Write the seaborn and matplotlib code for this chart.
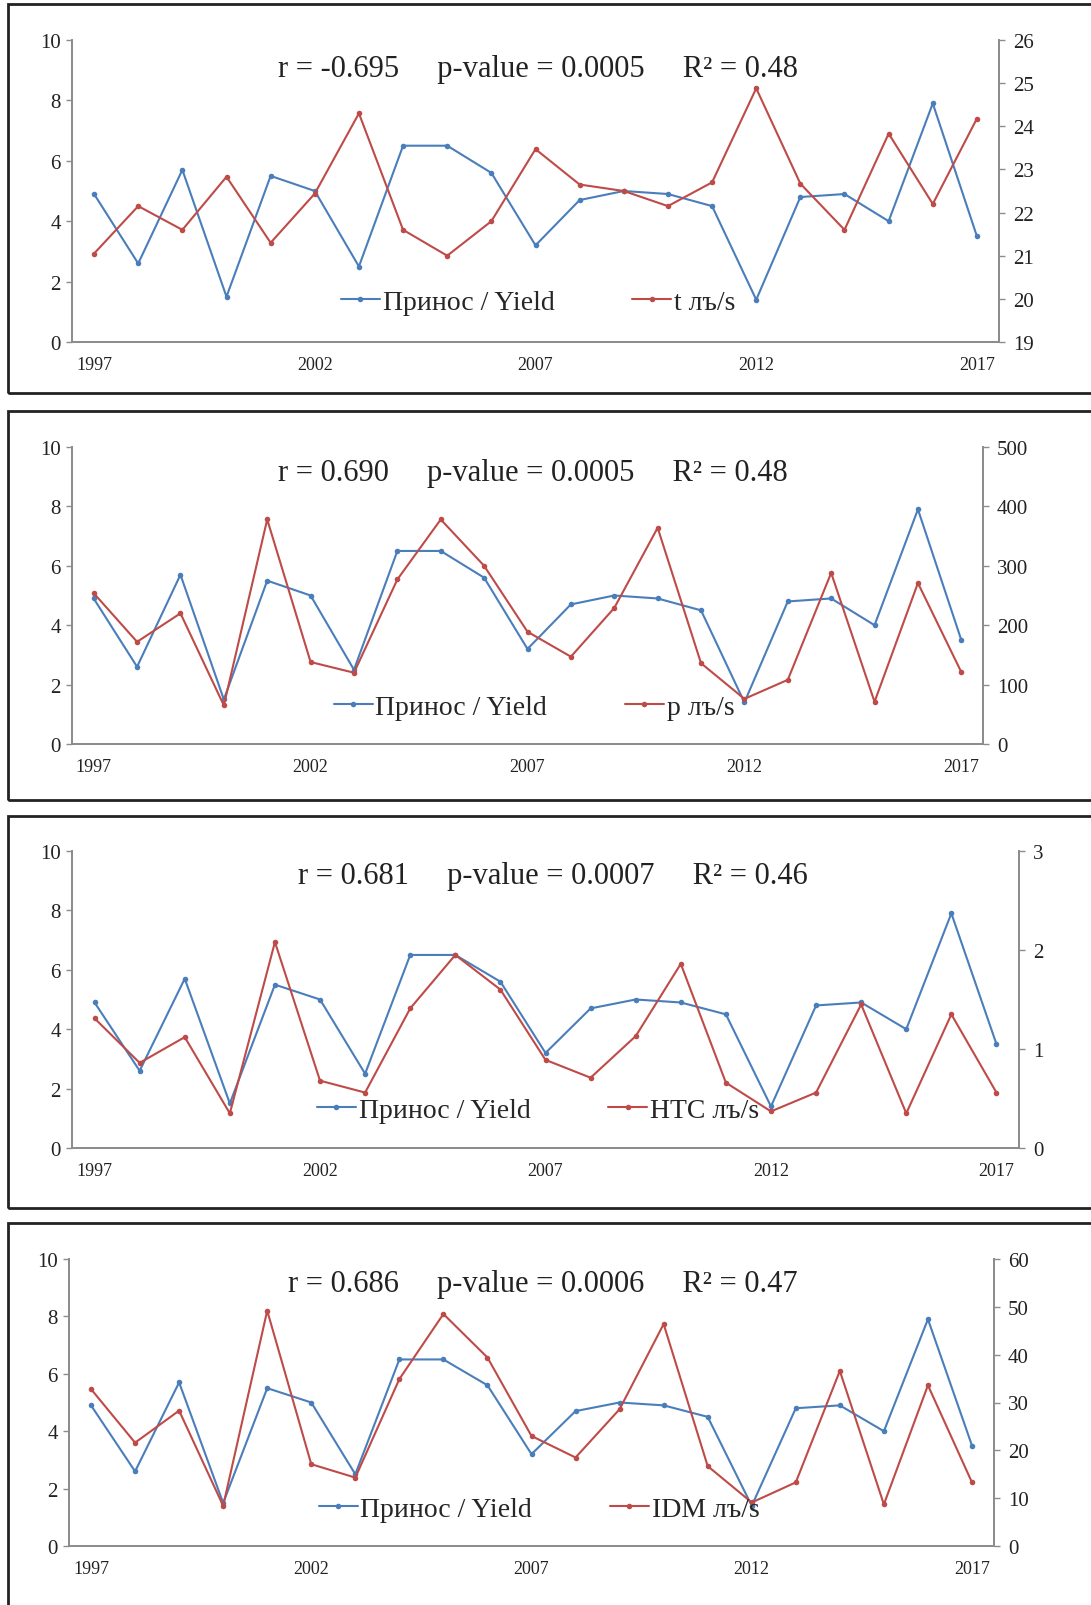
import numpy as np
import seaborn as sns
import matplotlib.pyplot as plt
from matplotlib.patches import Rectangle
from matplotlib.ticker import FixedLocator, NullFormatter


years = list(range(1997, 2018))
yield_vals = [4.9, 2.6, 5.7, 1.5, 5.5, 5.0, 2.5, 6.5, 6.5, 5.6, 3.2,
              4.7, 5.0, 4.9, 4.5, 1.4, 4.8, 4.9, 4.0, 7.9, 3.5]

temp_vals = [21.05, 22.15, 21.6, 22.83, 21.3, 22.44, 24.3, 21.6, 21.0, 21.8, 23.47,
             22.65, 22.5, 22.15, 22.7, 24.88, 22.67, 21.6, 23.83, 22.2, 24.18]
precip_vals = [254, 172, 220, 65, 378, 138, 120, 277, 378, 300, 189,
               147, 229, 364, 136, 76, 108, 288, 71, 271, 121]
htc_vals = [1.31, 0.86, 1.12, 0.35, 2.08, 0.68, 0.56, 1.41, 1.95, 1.6, 0.89,
            0.71, 1.13, 1.86, 0.66, 0.37, 0.56, 1.45, 0.35, 1.35, 0.56]
idm_vals = [32.8, 21.6, 28.3, 8.4, 49.2, 17.1, 14.3, 34.9, 48.5, 39.4, 23.0,
            18.5, 28.6, 46.4, 16.7, 9.1, 13.3, 36.6, 8.7, 33.6, 13.3]

stats_texts = ['r = -0.695     p-value = 0.0005     R\u00b2 = 0.48',
               'r = 0.690     p-value = 0.0005     R\u00b2 = 0.48',
               'r = 0.681     p-value = 0.0007     R\u00b2 = 0.46',
               'r = 0.686     p-value = 0.0006     R\u00b2 = 0.47']
series_labels = ['t \u043b\u044a/s', 'p \u043b\u044a/s', 'HTC \u043b\u044a/s', 'IDM \u043b\u044a/s']
yield_label = '\u041f\u0440\u0438\u043d\u043e\u0441 / Yield'
right_ticks = [list(range(19, 27)), list(range(0, 501, 100)),
               [0, 1, 2, 3], list(range(0, 61, 10))]
right_series = [temp_vals, precip_vals, htc_vals, idm_vals]

W, H = 1091, 1606
BLUE = '#4A7EBB'
RED = '#BE4B48'
GRAY = '#8c8c8c'

# pixel layout: (left, right, top, bottom) of axes, box (top, bottom)
axes_px = [(72, 999, 41, 343), (72, 983, 448, 745),
           (72, 1019, 852, 1149), (69, 994, 1260, 1547)]
box_px = [(5, 394), (412, 801), (817, 1209), (1224, 1612)]
text_px = [(538, 70), (533, 473), (553, 877), (543, 1285)]
legend_px = [(538, 303), (534, 708), (538, 1111), (539, 1510)]

sns.set_style('white')
plt.rcParams['font.family'] = ['Liberation Serif', 'DejaVu Serif']

fig = plt.figure(figsize=(W / 100, H / 100), dpi=100)

idx = np.arange(len(years))

for i in range(4):
    l, r, t, b = axes_px[i]
    ax = fig.add_axes([l / W, 1 - b / H, (r - l) / W, (b - t) / H])
    ax2 = ax.twinx()

    sns.lineplot(x=idx, y=yield_vals, ax=ax, color=BLUE, marker='o',
                 markersize=4, markeredgewidth=0, linewidth=1.5, label=yield_label)
    sns.lineplot(x=idx, y=right_series[i], ax=ax2, color=RED, marker='o',
                 markersize=4, markeredgewidth=0, linewidth=1.5, label=series_labels[i])

    ax.set_xlim(-0.5, len(years) - 0.5)
    ax.set_ylim(0, 10)
    ax.set_yticks(range(0, 11, 2))
    ax2.set_ylim(right_ticks[i][0], right_ticks[i][-1])
    ax2.set_yticks(right_ticks[i])

    ax.set_xticks([0, 5, 10, 15, 20])
    ax.set_xticklabels([str(years[k]) for k in [0, 5, 10, 15, 20]])
    ax.xaxis.set_minor_locator(FixedLocator(np.arange(-0.5, len(years), 1.0)))
    ax.xaxis.set_minor_formatter(NullFormatter())
    ax.tick_params(axis='x', which='major', length=0, labelsize=13, pad=10, colors='#222')
    ax.tick_params(axis='x', which='minor', length=7, width=1, color=GRAY, direction='out')
    ax.tick_params(axis='y', length=4, width=1, color=GRAY, labelsize=15, labelcolor='#222', pad=4)
    ax2.tick_params(axis='y', length=4, width=1, color=GRAY, labelsize=15, labelcolor='#222', pad=6)

    for a in (ax, ax2):
        a.set_xlabel('')
        a.set_ylabel('')
        a.spines['top'].set_visible(False)
        for s in ('left', 'right', 'bottom'):
            a.spines[s].set_color(GRAY)
            a.spines[s].set_linewidth(1.3)
        a.patch.set_alpha(0)

    h1, l1 = ax.get_legend_handles_labels()
    h2, l2 = ax2.get_legend_handles_labels()
    ax.get_legend().remove()
    ax2.get_legend().remove()
    lx, ly = legend_px[i]
    ax2.legend(h1 + h2, l1 + l2, loc='center', ncol=2, frameon=False,
               bbox_to_anchor=(lx / W, 1 - ly / H), bbox_transform=fig.transFigure,
               fontsize=20, handlelength=1.4, handletextpad=0.1, columnspacing=2.8)

    tx, ty = text_px[i]
    fig.text(tx / W, 1 - ty / H, stats_texts[i], ha='center', va='center',
             fontsize=22, color='#222')

    bt, bb = box_px[i]
    fig.add_artist(Rectangle((8 / W, 1 - bb / H), (W + 20 - 8) / W, (bb - bt) / H,
                             transform=fig.transFigure, fill=False,
                             edgecolor='#222', linewidth=2))

plt.savefig('out.png', dpi=100)
